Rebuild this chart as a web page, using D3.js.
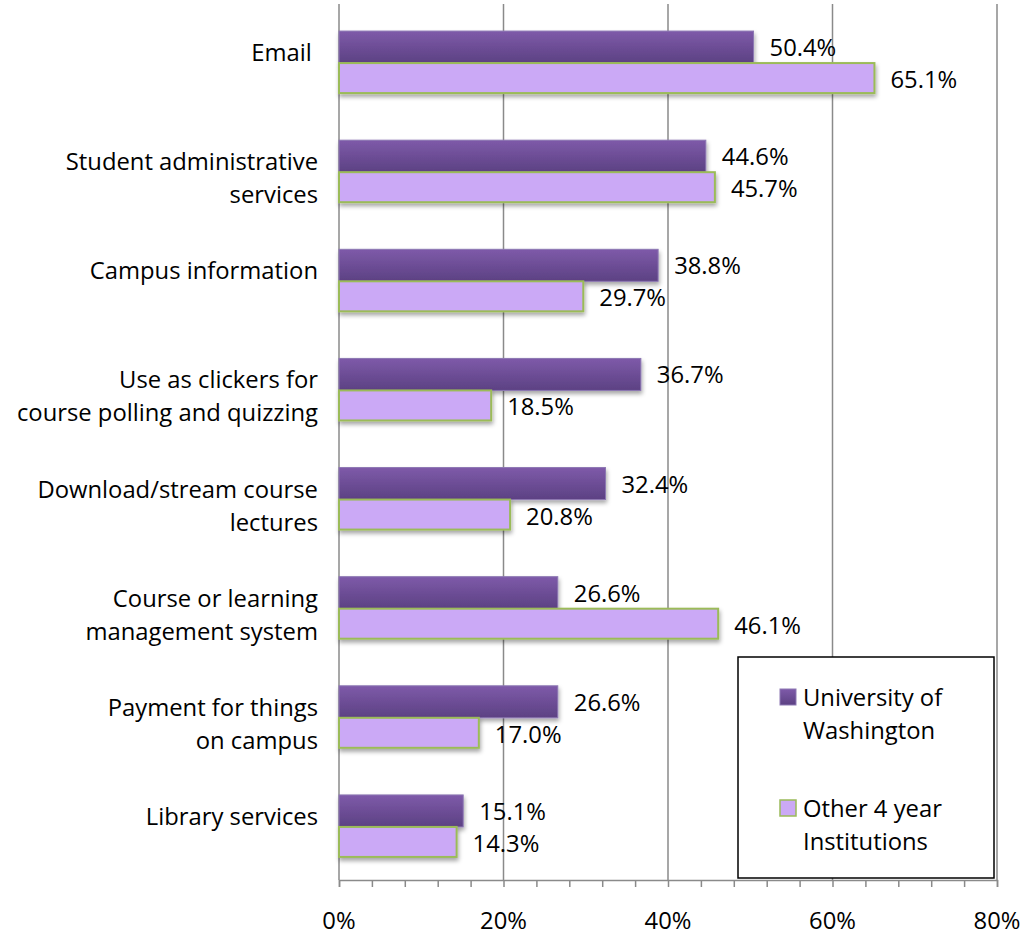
<!DOCTYPE html>
<html>
<head>
<meta charset="utf-8">
<script src="https://cdn.jsdelivr.net/npm/d3@7"></script>
<style>
  body { margin: 0; background: #fff; }
  text { font-family: "Open Sans", Lato, sans-serif; fill: #000; }
</style>
</head>
<body>
<script>
// #### DATA ####
var categories = [
  ["Email "],
  ["Student administrative", "services"],
  ["Campus information"],
  ["Use as clickers for", "course polling and quizzing"],
  ["Download/stream course", "lectures"],
  ["Course or learning", "management system"],
  ["Payment for things", "on campus"],
  ["Library services"]
];
var uwValues    = [50.4, 44.6, 38.8, 36.7, 32.4, 26.6, 26.6, 15.1];
var otherValues = [65.1, 45.7, 29.7, 18.5, 20.8, 46.1, 17.0, 14.3];
var seriesNames = [["University of", "Washington"], ["Other 4 year", "Institutions"]];
var xTicks = [0, 20, 40, 60, 80];

// #### options ####
var width = 1024, height = 937;
var fontSize = 23.8;

var svg = d3.select("body").append("svg")
  .attr("width", width)
  .attr("height", height);

var defs = svg.append("defs");
var grad = defs.append("linearGradient")
  .attr("id", "uwGrad")
  .attr("x1", 0).attr("y1", 0).attr("x2", 0).attr("y2", 1);
grad.append("stop").attr("offset", "0%").attr("stop-color", "#7e5aa9");
grad.append("stop").attr("offset", "100%").attr("stop-color", "#5c4183");

var shadow = defs.append("filter")
  .attr("id", "shadow")
  .attr("x", "-5%").attr("y", "-20%").attr("width", "115%").attr("height", "160%");
shadow.append("feDropShadow")
  .attr("dx", 1).attr("dy", 3)
  .attr("stdDeviation", 2)
  .attr("flood-color", "#000")
  .attr("flood-opacity", 0.35);

var x = d3.scaleLinear()
  .domain([0, 80])
  .range([339, 997]);

var y = d3.scaleBand()
  .domain(d3.range(categories.length))
  .range([8.5, 881.5]);

var axisY = 880;

function label(g, tx, ty, str, anchor) {
  return g.append("text")
    .attr("x", tx)
    .attr("y", ty)
    .attr("text-anchor", anchor || "start")
    .attr("dominant-baseline", "central")
    .style("font-size", fontSize + "px")
    .style("white-space", "pre")
    .text(str);
}

// gridlines
svg.append("g").selectAll("line")
  .data(xTicks)
  .enter().append("line")
  .attr("x1", function(d) { return x(d); })
  .attr("x2", function(d) { return x(d); })
  .attr("y1", 4)
  .attr("y2", axisY)
  .style("stroke", "#8a8a8a")
  .style("stroke-width", 1.5);

// axis
var xAxis = d3.axisBottom(x)
  .tickValues(d3.range(0, 81, 4))
  .tickSize(7)
  .tickFormat("");

svg.append("g")
  .attr("class", "x axis")
  .attr("transform", "translate(0," + axisY + ")")
  .call(xAxis)
  .call(function(g) {
    g.select(".domain").style("stroke", "#8a8a8a").style("stroke-width", 1.5);
    g.selectAll(".tick line").style("stroke", "#8a8a8a").style("stroke-width", 1.5);
  });

var tickLabels = svg.append("g");
xTicks.forEach(function(t) {
  label(tickLabels, x(t), 920, t + "%", "middle");
});

// bars
var barH = 32;
var bars = svg.append("g");

bars.selectAll(".uw")
  .data(uwValues)
  .enter().append("rect")
  .attr("class", "uw")
  .attr("x", x(0))
  .attr("y", function(d, i) { return y(i) + y.bandwidth() / 2 - barH; })
  .attr("width", function(d) { return x(d) - x(0); })
  .attr("height", barH)
  .style("fill", "url(#uwGrad)")
  .style("stroke", "#8d78b3")
  .style("stroke-width", 1)
  .attr("filter", "url(#shadow)");

bars.selectAll(".other")
  .data(otherValues)
  .enter().append("rect")
  .attr("class", "other")
  .attr("x", x(0))
  .attr("y", function(d, i) { return y(i) + y.bandwidth() / 2; })
  .attr("width", function(d) { return x(d) - x(0); })
  .attr("height", barH - 2)
  .style("fill", "#cba9f6")
  .style("stroke", "#9bbb59")
  .style("stroke-width", 2)
  .attr("filter", "url(#shadow)");

// value labels
var valLabels = svg.append("g");
uwValues.forEach(function(v, i) {
  label(valLabels, x(v) + 16, y(i) + y.bandwidth() / 2 - 16, v.toFixed(1) + "%");
});
otherValues.forEach(function(v, i) {
  label(valLabels, x(v) + 16, y(i) + y.bandwidth() / 2 + 16, v.toFixed(1) + "%");
});

// category labels
var catLabels = svg.append("g");
categories.forEach(function(lines, i) {
  var c = y(i) + y.bandwidth() / 2;
  lines.forEach(function(s, j) {
    label(catLabels, 318, c - 11 + j * 33, s, "end");
  });
});

// legend
var legend = svg.append("g");
legend.append("rect")
  .attr("x", 738).attr("y", 657)
  .attr("width", 256).attr("height", 221)
  .style("fill", "#fff")
  .style("stroke", "#000")
  .style("stroke-width", 1.5);

var legendTop = [697, 808];
seriesNames.forEach(function(lines, k) {
  legend.append("rect")
    .attr("x", 780).attr("y", legendTop[k] - 8)
    .attr("width", 16).attr("height", 16)
    .style("fill", k === 0 ? "url(#uwGrad)" : "#cba9f6")
    .style("stroke", k === 0 ? "#8d78b3" : "#9bbb59")
    .style("stroke-width", k === 0 ? 1 : 1.5);
  lines.forEach(function(s, j) {
    label(legend, 803, legendTop[k] + j * 33, s);
  });
});
</script>
</body>
</html>
